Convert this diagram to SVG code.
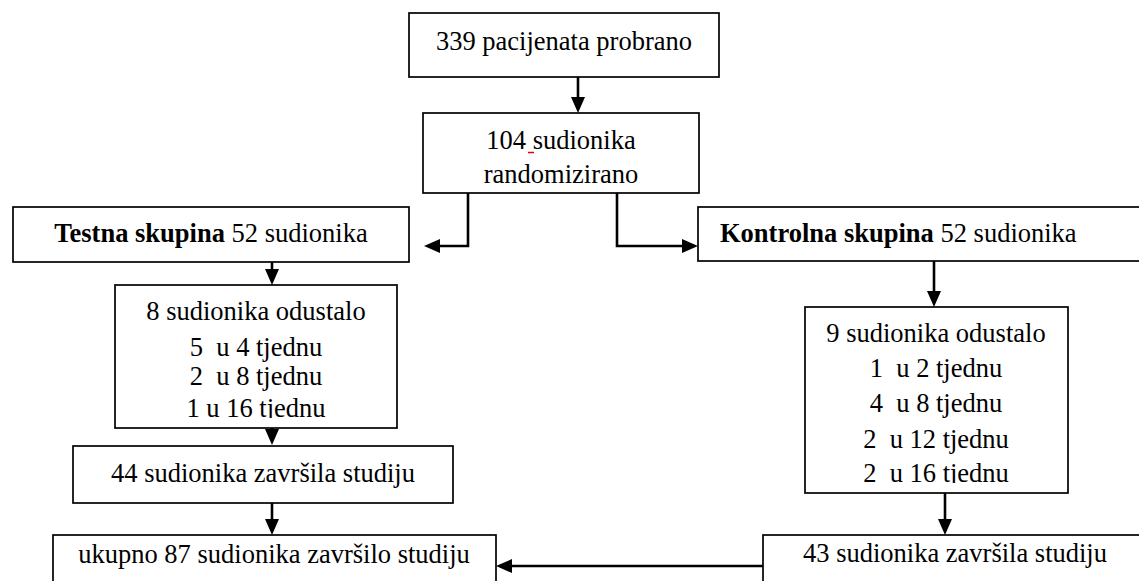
<svg xmlns="http://www.w3.org/2000/svg" width="1139" height="581" viewBox="0 0 1139 581" font-family="'Liberation Serif', 'DejaVu Serif', serif">
<style>
.box{fill:#fff;stroke:#000;stroke-width:1.7}
.t{font-family:'Liberation Serif','DejaVu Serif',serif;font-size:26.5px;fill:#000;white-space:pre}
.m{text-anchor:middle}
.b{font-weight:bold}
.c{fill:none;stroke:#000;stroke-width:2.6}
</style>
<defs>
<marker id="ah" markerUnits="userSpaceOnUse" markerWidth="16" markerHeight="14" refX="12" refY="7" orient="auto" viewBox="0 0 16 14">
<path d="M0,0 L16,7 L0,14 z" fill="#000"/>
</marker>
<clipPath id="clip8"><rect x="115" y="285" width="282" height="133"/></clipPath>
<clipPath id="clip9"><rect x="805" y="307" width="263" height="176"/></clipPath>
</defs>
<rect width="1139" height="581" fill="#fff"/>
<g id="n1">
<rect class="box" x="409" y="13" width="310" height="64"/>
<text class="t m" x="564" y="50">339 pacijenata probrano</text>
</g>
<g id="n2">
<rect class="box" x="423" y="113" width="276" height="80"/>
<text class="t m" x="561" y="149">104 sudionika</text>
<text class="t m" x="561" y="183">randomizirano</text>
<line x1="528" y1="152.5" x2="534" y2="152.5" stroke="#e00000" stroke-width="1.5"/>
</g>
<g id="n3">
<rect class="box" x="13" y="207" width="396" height="55"/>
<text class="t m" x="211" y="242"><tspan class="b">Testna skupina</tspan> 52 sudionika</text>
</g>
<g id="n4">
<rect class="box" x="698" y="207" width="460" height="54"/>
<text class="t" x="720" y="242"><tspan class="b">Kontrolna skupina</tspan> 52 sudionika</text>
</g>
<g id="n5">
<rect class="box" x="115" y="285" width="282" height="143"/>
<g clip-path="url(#clip8)">
<text class="t m" x="256" y="320">8 sudionika odustalo</text>
<text class="t m" x="256" y="356">5  u 4 tjednu</text>
<text class="t m" x="256" y="385">2  u 8 tjednu</text>
<text class="t m" x="256" y="417">1 u 16 tjednu</text>
</g>
</g>
<g id="n6">
<rect class="box" x="805" y="307" width="263" height="186"/>
<g clip-path="url(#clip9)">
<text class="t m" x="936" y="342">9 sudionika odustalo</text>
<text class="t m" x="936" y="377">1  u 2 tjednu</text>
<text class="t m" x="936" y="412">4  u 8 tjednu</text>
<text class="t m" x="936" y="448">2  u 12 tjednu</text>
<text class="t m" x="936" y="482">2  u 16 tjednu</text>
</g>
</g>
<g id="n7">
<rect class="box" x="73" y="446" width="380" height="57"/>
<text class="t m" x="263" y="482">44 sudionika završila studiju</text>
</g>
<g id="n8">
<rect class="box" x="763" y="535" width="400" height="60"/>
<text class="t m" x="955" y="562">43 sudionika završila studiju</text>
</g>
<g id="n9">
<rect class="box" x="53" y="535" width="443" height="60"/>
<text class="t m" x="274" y="563">ukupno 87 sudionika završilo studiju</text>
</g>
<g id="connectors">
<path class="c" d="M578,77 V109" marker-end="url(#ah)"/>
<path class="c" d="M468,193 V246 H428" marker-end="url(#ah)"/>
<path class="c" d="M617,193 V246 H694" marker-end="url(#ah)"/>
<path class="c" d="M272,262 V281" marker-end="url(#ah)"/>
<path class="c" d="M272,428 V441" marker-end="url(#ah)"/>
<path class="c" d="M272,503 V531" marker-end="url(#ah)"/>
<path class="c" d="M934,261 V303" marker-end="url(#ah)"/>
<path class="c" d="M945,493 V531" marker-end="url(#ah)"/>
<path class="c" d="M763,566 H500" marker-end="url(#ah)"/>
</g>
</svg>
